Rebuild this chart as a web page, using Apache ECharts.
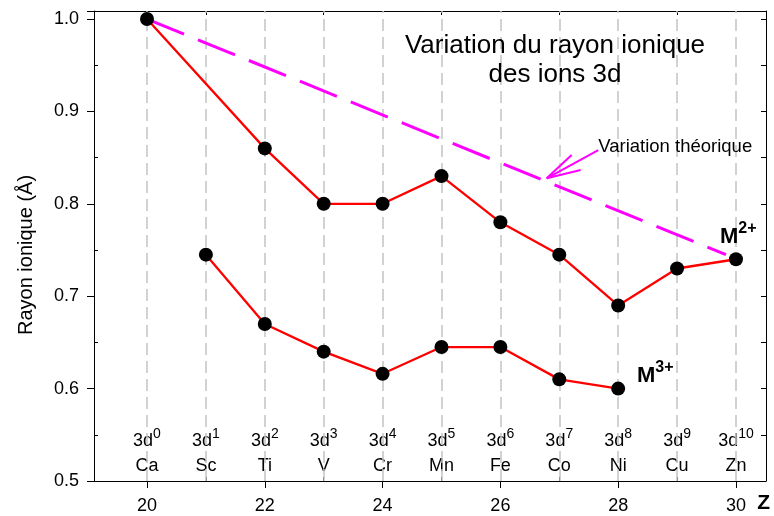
<!DOCTYPE html>
<html>
<head>
<meta charset="utf-8">
<script src="https://cdn.jsdelivr.net/npm/echarts@6/dist/echarts.min.js"></script>
<style>html,body{margin:0;padding:0;background:#fff;}#c{width:774px;height:516px;}</style>
</head>
<body>
<div id="c"></div>
<script>
// ---- data ----
var zValues = [20, 21, 22, 23, 24, 25, 26, 27, 28, 29, 30];
var elements = ['Ca', 'Sc', 'Ti', 'V', 'Cr', 'Mn', 'Fe', 'Co', 'Ni', 'Cu', 'Zn'];
var dCounts = ['0', '1', '2', '3', '4', '5', '6', '7', '8', '9', '10'];
var m2Z = [20, 22, 23, 24, 25, 26, 27, 28, 29, 30];
var m2R = [1.0, 0.86, 0.80, 0.80, 0.83, 0.78, 0.745, 0.69, 0.73, 0.74];
var m3Z = [21, 22, 23, 24, 25, 26, 27, 28];
var m3R = [0.745, 0.67, 0.64, 0.616, 0.645, 0.645, 0.61, 0.60];
var theoZ = [20, 29.83];
var theoR = [1.0, 0.745];
var xMajorTicks = [20, 22, 24, 26, 28, 30];
var xMinorTicks = [21, 23, 25, 27, 29];
var yMinorTicks = [0.55, 0.65, 0.75, 0.85, 0.95];
var yAllTicks = [0.5, 0.55, 0.6, 0.65, 0.7, 0.75, 0.8, 0.85, 0.9, 0.95, 1.0];
// annotation positions (data coordinates)
var arrowStart = [27.662, 0.858];
var arrowTip = [26.786, 0.8276];
var arrowHead1 = [27.21, 0.8528];
var arrowHead2 = [27.363, 0.8366];
var m2Label = [29.728, 0.7646];
var m3Label = [28.319, 0.6136];

var FONT = 'Liberation Sans, Arial, sans-serif';
var XMIN = 19.1, XMAX = 30.51, YMIN = 0.5, YMAX = 1.0087;

function zip(a, b) { return a.map(function (v, i) { return [v, b[i]]; }); }

var ionRich = {
  m: {fontFamily: FONT, fontSize: 22, fontWeight: 'bold', lineHeight: 32, color: '#000', opacity: 1},
  s: {fontFamily: FONT, fontSize: 16, fontWeight: 'bold', lineHeight: 15, verticalAlign: 'top', color: '#000', opacity: 1}
};

var chart = echarts.init(document.getElementById('c'), null, {renderer: 'canvas'});
var option = {
  animation: false,
  backgroundColor: '#fff',
  title: {
    text: 'Variation du rayon ionique\ndes ions 3d',
    left: 550, top: 26, textAlign: 'center',
    textStyle: {fontFamily: FONT, fontSize: 26, fontWeight: 'normal', color: '#000', lineHeight: 29}
  },
  grid: {left: 94, right: 8, top: 11, bottom: 35, containLabel: false},
  xAxis: [
    {
      type: 'value', position: 'bottom', min: XMIN, max: XMAX,
      axisLine: {show: true, onZero: false, lineStyle: {color: '#000', width: 1}},
      axisTick: {show: true, inside: false, length: 7, customValues: xMajorTicks, lineStyle: {color: '#000'}},
      axisLabel: {show: true, customValues: xMajorTicks, margin: 16, fontFamily: FONT, fontSize: 18, color: '#000'},
      splitLine: {show: false}
    },
    {
      type: 'value', position: 'bottom', min: XMIN, max: XMAX,
      axisLine: {show: false, onZero: false},
      axisTick: {show: true, inside: true, length: 4, customValues: xMinorTicks, lineStyle: {color: '#000'}},
      axisLabel: {
        show: true, inside: true, margin: 4, customValues: zValues,
        formatter: function (v) {
          var i = zValues.indexOf(Math.round(v));
          if (i < 0) return '';
          return '{a|3d}{s|' + dCounts[i] + '}\n{e|' + elements[i] + '}';
        },
        rich: {
          a: {fontFamily: FONT, fontSize: 18, lineHeight: 28, color: '#000'},
          s: {fontFamily: FONT, fontSize: 14, lineHeight: 14, verticalAlign: 'top', color: '#000'},
          e: {fontFamily: FONT, fontSize: 18, lineHeight: 22, color: '#000'}
        }
      },
      splitLine: {show: false}
    },
    {
      type: 'value', position: 'top', min: XMIN, max: XMAX,
      axisLine: {show: true, onZero: false, lineStyle: {color: '#000', width: 1}},
      axisTick: {show: true, inside: true, length: 4, customValues: xMinorTicks, lineStyle: {color: '#000'}},
      axisLabel: {show: false},
      splitLine: {show: false}
    }
  ],
  yAxis: [
    {
      type: 'value', position: 'left', min: YMIN, max: YMAX, interval: 0.1,
      name: 'Rayon ionique (Å)', nameLocation: 'middle', nameGap: 58,
      nameTextStyle: {fontFamily: FONT, fontSize: 20, color: '#000', padding: [0, 18, 0, 0]},
      axisLine: {show: true, onZero: false, lineStyle: {color: '#000', width: 1}},
      axisTick: {show: true, inside: false, length: 7, lineStyle: {color: '#000'}},
      axisLabel: {show: true, margin: 15, fontFamily: FONT, fontSize: 18, color: '#000',
        formatter: function (v) { return v > 1.005 ? '' : v.toFixed(1); }},
      splitLine: {show: false}
    },
    {
      type: 'value', position: 'left', min: YMIN, max: YMAX,
      axisLine: {show: false, onZero: false},
      axisTick: {show: true, inside: true, length: 4, customValues: yMinorTicks, lineStyle: {color: '#000'}},
      axisLabel: {show: false},
      splitLine: {show: false}
    },
    {
      type: 'value', position: 'right', min: YMIN, max: YMAX,
      axisLine: {show: true, onZero: false, lineStyle: {color: '#000', width: 1}},
      axisTick: {show: true, inside: true, length: 5, customValues: yAllTicks, lineStyle: {color: '#000'}},
      axisLabel: {show: false},
      splitLine: {show: false}
    }
  ],
  graphic: [
    {type: 'text', right: 4, bottom: 2, style: {text: 'Z', font: 'bold 21px ' + FONT, fill: '#000'}}
  ],
  series: [
    {
      type: 'line', xAxisIndex: 0, yAxisIndex: 0, data: [], z: 1, silent: true,
      markLine: {
        silent: true, symbol: 'none', animation: false, z: 1,
        label: {show: false},
        emphasis: {disabled: true},
        lineStyle: {color: '#c4c4c4', type: [12, 6], width: 1.5},
        data: zValues.map(function (v) { return {xAxis: v}; })
      }
    },
    {
      type: 'line', xAxisIndex: 0, yAxisIndex: 0, z: 2,
      data: zip(theoZ, theoR), symbol: 'none',
      lineStyle: {color: '#ff00ff', width: 3, type: [40, 15]}
    },
    {
      type: 'lines', coordinateSystem: 'cartesian2d', xAxisIndex: 0, yAxisIndex: 0, z: 2,
      lineStyle: {color: '#ff00ff', width: 2, opacity: 1},
      data: [
        {coords: [arrowStart, arrowTip]},
        {coords: [arrowTip, arrowHead1]},
        {coords: [arrowTip, arrowHead2]}
      ]
    },
    {
      type: 'line', name: 'M2+', xAxisIndex: 0, yAxisIndex: 0, z: 3,
      data: zip(m2Z, m2R), symbol: 'circle', symbolSize: 14,
      lineStyle: {color: '#ff0000', width: 2.3},
      itemStyle: {color: '#000', borderWidth: 0}
    },
    {
      type: 'line', name: 'M3+', xAxisIndex: 0, yAxisIndex: 0, z: 3,
      data: zip(m3Z, m3R), symbol: 'circle', symbolSize: 14,
      lineStyle: {color: '#ff0000', width: 2.3},
      itemStyle: {color: '#000', borderWidth: 0}
    },
    {
      type: 'scatter', xAxisIndex: 0, yAxisIndex: 0, z: 4, symbolSize: 0, silent: true,
      itemStyle: {color: '#000', opacity: 1},
      data: [
        {value: arrowStart, label: {show: true, position: 'right', distance: 0, offset: [0, -3],
          formatter: 'Variation théorique', fontFamily: FONT, fontSize: 18.5, color: '#000', opacity: 1}},
        {value: m2Label, label: {show: true, position: 'right', distance: 0, formatter: '{m|M}{s|2+}', rich: ionRich, color: '#000'}},
        {value: m3Label, label: {show: true, position: 'right', distance: 0, formatter: '{m|M}{s|3+}', rich: ionRich, color: '#000'}}
      ]
    }
  ]
};
chart.setOption(option);
</script>
</body>
</html>
